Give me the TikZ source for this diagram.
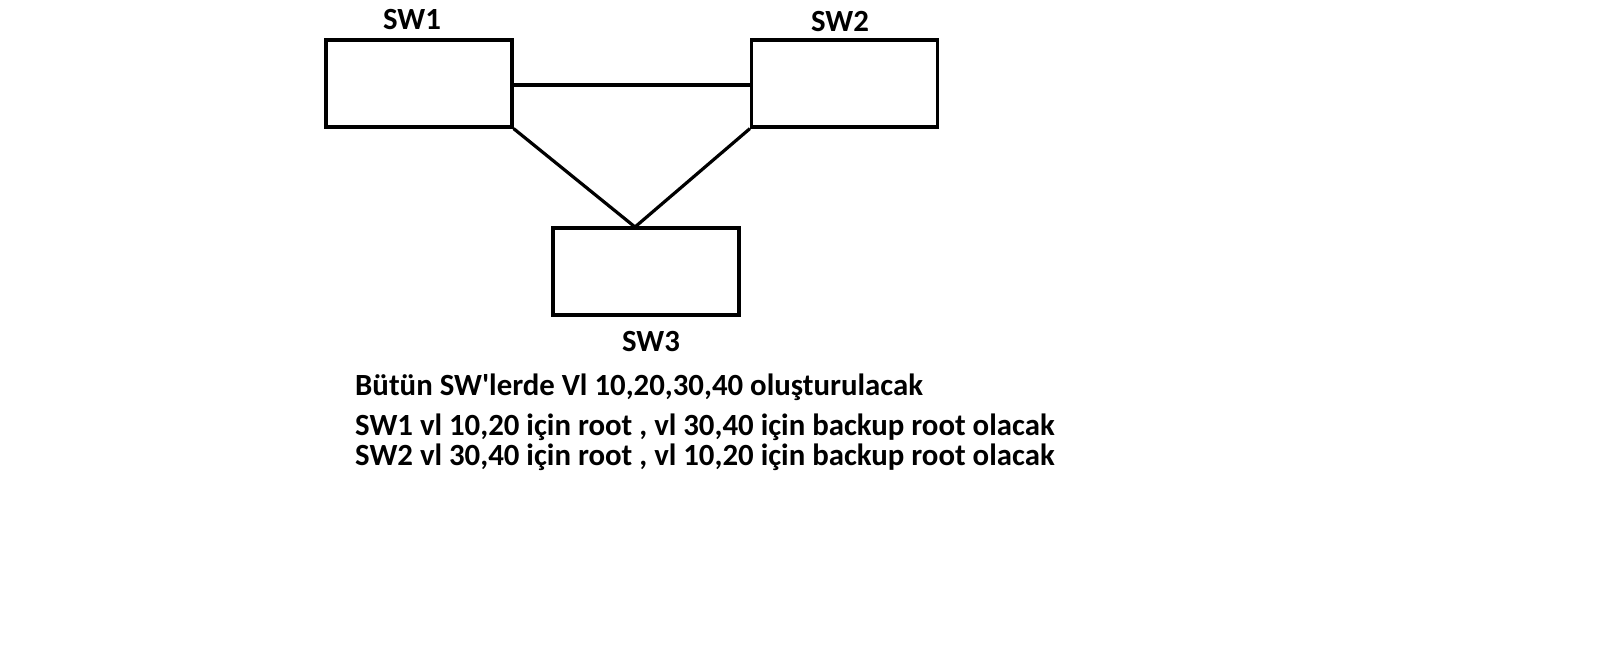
\documentclass[tikz,border=0pt]{standalone}
\usepackage{fontspec}
\setmainfont{Carlito}
\begin{document}
\begin{tikzpicture}[x=1pt,y=-1pt,
  swbox/.style={draw=black,line width=3.2pt,minimum width=186pt,minimum height=87pt,inner sep=0pt},
  link/.style={draw=black,line width=3.2pt},
  swlabel/.style={font=\bfseries\fontsize{30.8}{34}\selectfont,anchor=base,inner sep=0pt},
  note/.style={font=\bfseries\fontsize{30.8}{34}\selectfont,anchor=base west,inner sep=0pt}]
\fill[white] (0,0) rectangle (1600,660);
\useasboundingbox (0,0) rectangle (1600,660);
\node[swbox] (sw1) at (419,83.5) {};
\node[swbox] (sw2) at (844.5,83.5) {};
\node[swbox] (sw3) at (646,271.5) {};
\coordinate (v) at (635,227);
\draw[link] ([yshift=-1.5pt]sw1.east) -- ([yshift=-1.5pt]sw2.west);
\draw[link] (sw1.south east) -- (v) -- (sw2.south west);
\node[swlabel] (l1) at (412,30) {SW1};
\node[swlabel] (l2) at (840,31.5) {SW2};
\node[swlabel] (l3) at (651,351.5) {SW3};
\node[note] (t1) at (355,395.7) {Bütün SW\textquotesingle lerde Vl 10,20,30,40 oluşturulacak};
\node[note] (t2) at (355,435.7) {SW1 vl 10,20 için root , vl 30,40 için backup root olacak};
\node[note] (t3) at (355,465) {SW2 vl 30,40 için root , vl 10,20 için backup root olacak};
\end{tikzpicture}
\end{document}
